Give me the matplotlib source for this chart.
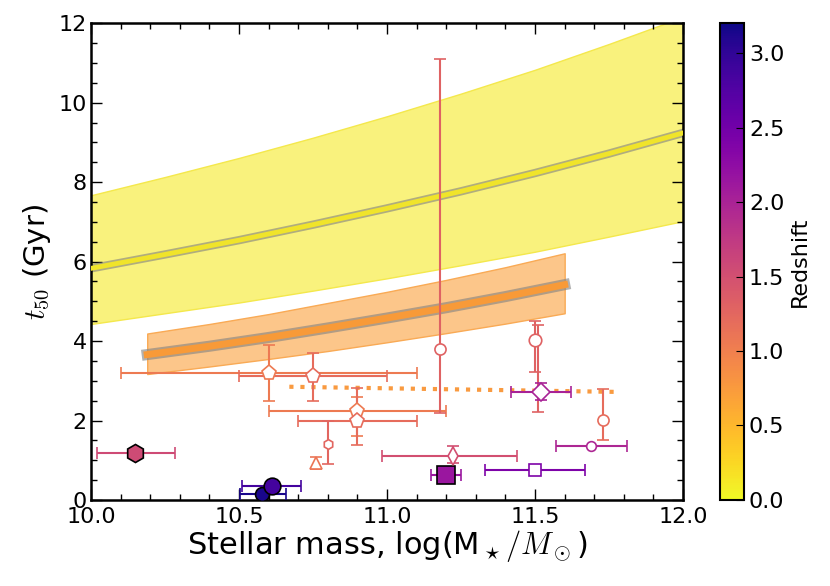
import numpy as np
import matplotlib
matplotlib.use('Agg')
import matplotlib.pyplot as plt
from matplotlib.colors import Normalize
from matplotlib.cm import ScalarMappable

plt.rcParams['mathtext.fontset'] = 'cm'
plt.rcParams['font.family'] = ['DejaVu Sans']

# z = 0 relation (yellow band)
band0_x = [10.0, 10.25, 10.5, 10.75, 11.0, 11.25, 11.5, 11.75, 12.0]
band0_mid = [5.83, 6.18, 6.54, 6.93, 7.34, 7.77, 8.23, 8.72, 9.24]
band0_hi = [7.67, 8.13, 8.61, 9.12, 9.66, 10.23, 10.83, 11.48, 12.16]
band0_lo = [4.43, 4.70, 4.97, 5.27, 5.58, 5.91, 6.25, 6.63, 7.02]

# z ~ 0.7 relation (orange band)
band1_x = [10.19, 10.4, 10.6, 10.8, 11.0, 11.2, 11.4, 11.6]
band1_mid = [3.66, 3.87, 4.09, 4.33, 4.58, 4.84, 5.12, 5.42]
band1_hi = [4.19, 4.43, 4.68, 4.96, 5.24, 5.54, 5.86, 6.21]
band1_lo = [3.17, 3.36, 3.55, 3.75, 3.97, 4.20, 4.44, 4.70]

# dotted relation
dot_x = [10.67, 11.78]
dot_y = [2.85, 2.72]

# galaxies: x, y, xerr(lo, hi), yerr(lo, hi), marker, filled, redshift, size
gal_x = [10.60, 10.75, 10.90, 10.90, 10.80, 10.76, 11.18, 11.20, 11.224,
         11.50, 11.51, 11.52, 11.50, 11.73, 11.69, 10.15, 10.577, 10.61]
gal_y = [3.20, 3.11, 2.23, 2.00, 1.40, 0.92, 3.81, 0.62, 1.11,
         0.76, 2.71, 2.71, 4.02, 2.02, 1.37, 1.19, 0.15, 0.34]
gal_xlo = [0.50, 0.25, 0.30, 0.20, 0, 0, 0, 0.05, 0.24,
           0.17, 0, 0.10, 0, 0, 0.12, 0.13, 0.074, 0.10]
gal_xhi = [0.50, 0.25, 0.30, 0.20, 0, 0, 0, 0.05, 0.216,
           0.17, 0, 0.10, 0, 0, 0.12, 0.135, 0.083, 0.10]
gal_ylo = [0.70, 0.61, 0.62, 0.61, 0.49, 0.15, 1.61, 0, 0.19,
           0, 0.50, 0.19, 0.80, 0.51, 0, 0, 0, 0]
gal_yhi = [0.70, 0.60, 0.37, 0.82, 0.60, 0.17, 7.28, 0, 0.26,
           0, 1.70, 0.23, 0.48, 0.77, 0, 0, 0, 0]
gal_mk = ['p', 'p', 'p', 'p', 'h', '^', 'o', 's', 'd',
          's', 'none', 'D', 'o', 'o', 'o', 'h', 'o', 'o']
gal_fill = [False, False, False, False, False, False, False, True, False,
            False, False, False, False, False, False, True, True, True]
gal_z = [1.05, 1.2, 1.05, 1.2, 1.25, 1.1, 1.3, 2.15, 1.5,
         2.4, 1.3, 2.0, 1.3, 1.2, 1.95, 1.55, 3.15, 2.85]
gal_ms = [11, 11, 11, 11, 7, 8, 8, 13, 9,
          8, 1, 9, 9, 8, 7, 13, 10, 12]

cmap = plt.get_cmap('plasma_r')
norm = Normalize(vmin=0, vmax=3.2)

fig = plt.figure(figsize=(8.3, 5.86), dpi=100)
ax = fig.add_axes([0.1096, 0.1468, 0.7134, 0.8135])
cax = fig.add_axes([0.8675, 0.1468, 0.029, 0.8135])

ax.fill_between(band0_x, band0_lo, band0_hi, facecolor='#f9f27d',
                edgecolor='#f4e84c', lw=1, zorder=1)
ax.plot(band0_x, band0_mid, color='0.5', alpha=0.6, lw=6, zorder=2)
ax.plot(band0_x, band0_mid, color='#f0e42a', lw=3.5, zorder=3)
ax.fill_between(band1_x, band1_lo, band1_hi, facecolor='#fcc68a',
                edgecolor='#f9aa55', lw=1, zorder=1)
ax.plot(band1_x, band1_mid, color='0.5', alpha=0.6, lw=8, zorder=2)
ax.plot(band1_x, band1_mid, color='#f89a38', lw=5, zorder=3)
ax.plot(dot_x, dot_y, ls=':', color='#f99a40', lw=3, zorder=2)

for i in range(len(gal_x)):
    col = cmap(norm(gal_z[i]))
    xe = None
    ye = None
    if gal_xlo[i] > 0:
        xe = [[gal_xlo[i]], [gal_xhi[i]]]
    if gal_ylo[i] > 0:
        ye = [[gal_ylo[i]], [gal_yhi[i]]]
    if gal_fill[i]:
        mfc, mec = col, 'k'
    else:
        mfc, mec = 'white', col
    ax.errorbar([gal_x[i]], [gal_y[i]], xerr=xe, yerr=ye, fmt=gal_mk[i],
                color=col, mfc=mfc, mec=mec, ms=gal_ms[i], mew=1.2,
                elinewidth=1.5, capsize=4, capthick=1, zorder=4 + i * 0.01)

ax.set_xlim(10, 12)
ax.set_ylim(0, 12)
ax.set_xticks([10.0, 10.5, 11.0, 11.5, 12.0])
ax.set_yticks([0, 2, 4, 6, 8, 10, 12])
ax.set_xticks(np.arange(10, 12.01, 0.1), minor=True)
ax.set_yticks(np.arange(0, 12.01, 0.5), minor=True)
ax.tick_params(which='both', direction='in', top=True, right=True, labelsize=16, pad=3)
ax.tick_params(axis='x', which='major', pad=5)
ax.tick_params(which='major', length=8, width=1)
ax.tick_params(which='minor', length=4, width=1)
for s in ax.spines.values():
    s.set_linewidth(1.8)
ax.set_xlabel(r'Stellar mass, log(M$_\star/M_\odot$)', fontsize=22, labelpad=1)
ax.set_ylabel(r'$t_{50}$ (Gyr)', fontsize=21, labelpad=4)

cb = fig.colorbar(ScalarMappable(norm=norm, cmap=cmap), cax=cax)
cb.set_ticks([0.0, 0.5, 1.0, 1.5, 2.0, 2.5, 3.0])
cb.ax.tick_params(direction='in', length=6, labelsize=16)
cb.outline.set_linewidth(1.5)
cb.set_label('Redshift', fontsize=16)

fig.savefig('out.png', dpi=100)
